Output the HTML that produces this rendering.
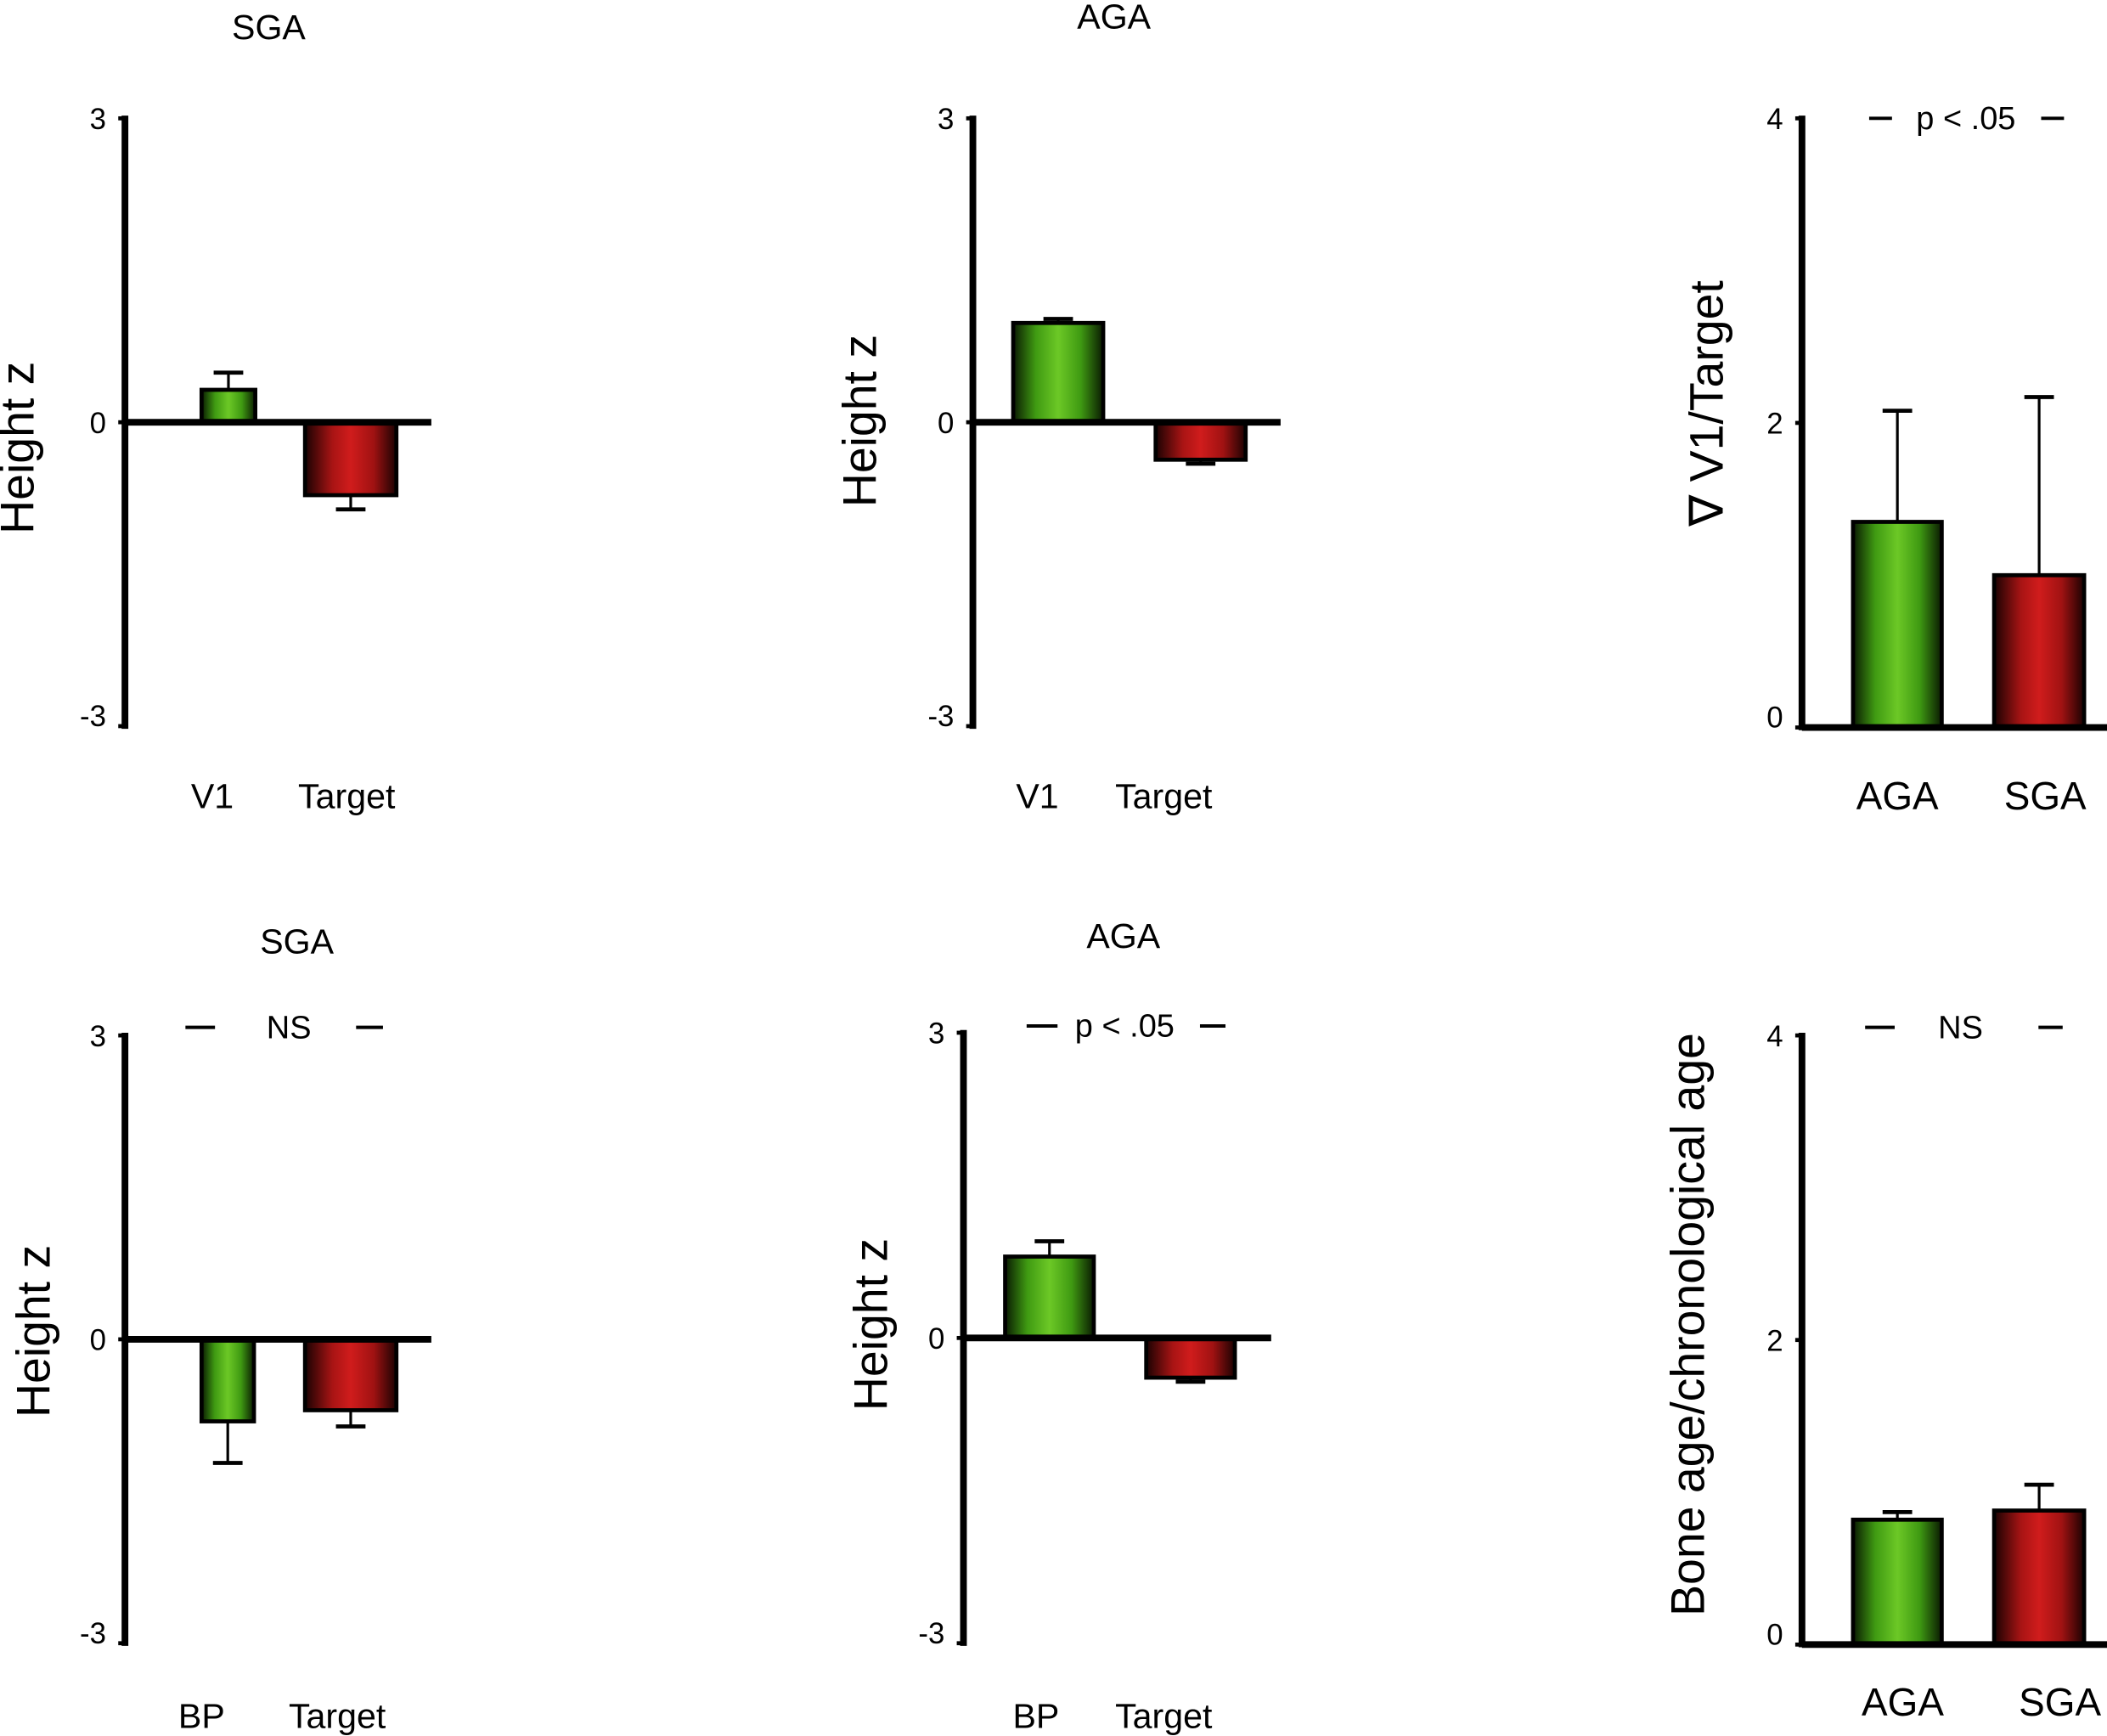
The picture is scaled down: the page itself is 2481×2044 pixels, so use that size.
<!DOCTYPE html>
<html><head><meta charset="utf-8"><style>
html,body{margin:0;padding:0;background:#fff}
svg{display:block}
text{font-family:"Liberation Sans",Arial,sans-serif;fill:#000}
</style></head><body>
<svg id="fig" width="2481" height="2044" viewBox="0 0 1568 1291" preserveAspectRatio="none" xmlns="http://www.w3.org/2000/svg">
<defs>
<linearGradient id="gGreen" x1="0" x2="1" y1="0" y2="0">
<stop offset="0" stop-color="#0a1a02"/><stop offset="0.25" stop-color="#3f9a12"/><stop offset="0.5" stop-color="#6cc826"/><stop offset="0.75" stop-color="#3f9a12"/><stop offset="1" stop-color="#0a1a02"/></linearGradient>
<linearGradient id="gRed" x1="0" x2="1" y1="0" y2="0">
<stop offset="0" stop-color="#1a0202"/><stop offset="0.3" stop-color="#a81414"/><stop offset="0.5" stop-color="#d01c1c"/><stop offset="0.75" stop-color="#a01212"/><stop offset="1" stop-color="#1a0202"/></linearGradient>
</defs>
</svg>
<script>
const p1Categories=["V1","Target"]; const p1Values=[0.32,-0.72]; const p1Errors=[0.17,0.14];
const p2Categories=["V1","Target"]; const p2Values=[0.98,-0.37]; const p2Errors=[0.04,0.04];
const p3Categories=["AGA","SGA"]; const p3Values=[1.35,1.0]; const p3Errors=[0.73,1.17];
const p4Categories=["BP","Target"]; const p4Values=[-0.81,-0.7]; const p4Errors=[0.41,0.16];
const p5Categories=["BP","Target"]; const p5Values=[0.8,-0.39]; const p5Errors=[0.15,0.04];
const p6Categories=["AGA","SGA"]; const p6Values=[0.82,0.88]; const p6Errors=[0.05,0.17];
const zTicks=["3","0","-3"]; const zTickVals=[3,0,-3];
const rTicks=["4","2","0"]; const rTickVals=[4,2,0];

const svg=document.getElementById('fig');
const NS="http://www.w3.org/2000/svg";
function mk(tag,attrs,parent){const e=document.createElementNS(NS,tag);for(const k in attrs)e.setAttribute(k,attrs[k]);(parent||svg).appendChild(e);return e;}
function txt(s,x,y,size,parent,anchor,rot){const t=mk('text',{x:x,y:y,'font-size':size,'text-anchor':anchor||'middle'},parent);if(rot)t.setAttribute('transform','rotate(-90 '+x+' '+y+')');t.textContent=s;return t;}

function drawPanel(cfg){
  const g=mk('g',{});
  
  
  const y=v=>cfg.y0+(cfg.vmax-v)/(cfg.vmax-cfg.vmin)*(cfg.y1-cfg.y0);
  cfg.values.forEach((v,i)=>{
    const bx=cfg.barX[i],bw=cfg.barW[i];
    const top=Math.min(y(v),y(0)),h=Math.abs(y(v)-y(0));
    const end=v>=0?y(v+cfg.errors[i]):y(v-cfg.errors[i]);
    const cx=bx+bw/2;
    const el=mk('line',{x1:cx,x2:cx,y1:y(v),y2:end,stroke:'#000','stroke-width':2},g);
    
    
    const cap=mk('line',{x1:cx-11,x2:cx+11,y1:end,y2:end,stroke:'#000','stroke-width':3},g);
    
    
    const r=mk('rect',{x:bx,y:top,width:bw,height:h,fill:i==0?'url(#gGreen)':'url(#gRed)',stroke:'#000','stroke-width':3},g);
    
    
    const cl=txt(cfg.cats[i],cfg.catX[i],cfg.catY,cfg.catSize,g);
    
    
  });
  const ax=mk('line',{x1:cfg.ax,x2:cfg.ax,y1:cfg.y0-2,y2:cfg.y1+2,stroke:'#000','stroke-width':5},g);
  
  
  const bl=mk('line',{x1:cfg.ax,x2:cfg.baseEnd,y1:y(0),y2:y(0),stroke:'#000','stroke-width':5},g);
  
  
  cfg.ticks.forEach((t,i)=>{
    const ty=y(cfg.tickVals[i]);
    mk('line',{x1:cfg.ax-5,x2:cfg.ax,y1:ty,y2:ty,stroke:'#000','stroke-width':3},g);
    const off=(i==cfg.ticks.length-1)?0:8;
    const tl=txt(t,cfg.ax-14,ty+off,22,g,'end');
    
    
  });
  const yt=txt(cfg.ytitle,cfg.ytx,cfg.yty,35,g,'middle',true);
  
  
  if(cfg.title){const tt=txt(cfg.title,cfg.titleX,cfg.titleY,26,g);
    
    }
  if(cfg.sig){const st=txt(cfg.sig,cfg.sigX,cfg.sigY,24,g);
    
    
    cfg.dashes.forEach(d=>mk('line',{x1:d[0],x2:d[1],y1:cfg.sigY-8,y2:cfg.sigY-8,stroke:'#000','stroke-width':2.5},g));}
}
drawPanel({name:'panel-sga-v1',cats:p1Categories,values:p1Values,errors:p1Errors,ticks:zTicks,tickVals:zTickVals,vmax:3,vmin:-3,y0:88,y1:540,ax:93,baseEnd:321,barX:[150,227],barW:[40,68],catX:[158,258],catY:601,catSize:26,ytitle:'Height z',ytx:25,yty:333,title:'SGA',titleX:200,titleY:29});
drawPanel({name:'panel-aga-v1',cats:p2Categories,values:p2Values,errors:p2Errors,ticks:zTicks,tickVals:zTickVals,vmax:3,vmin:-3,y0:88,y1:540,ax:724,baseEnd:953,barX:[754,860],barW:[67,67],catX:[772,866],catY:601,catSize:26,ytitle:'Height z',ytx:652,yty:313,title:'AGA',titleX:829,titleY:21});
drawPanel({name:'panel-v1-target-ratio',cats:p3Categories,values:p3Values,errors:p3Errors,ticks:rTicks,tickVals:rTickVals,vmax:4,vmin:0,y0:88,y1:541,ax:1341,baseEnd:1568,barX:[1379,1484],barW:[66,67],catX:[1412,1522],catY:602,catSize:29,ytitle:'∇ V1/Target',ytx:1282,yty:300,sig:'p < .05',sigX:1463,sigY:96,dashes:[[1391,1408],[1519,1536]]});
drawPanel({name:'panel-sga-bp',cats:p4Categories,values:p4Values,errors:p4Errors,ticks:zTicks,tickVals:zTickVals,vmax:3,vmin:-3,y0:770,y1:1222,ax:93,baseEnd:321,barX:[150,227],barW:[39,68],catX:[150,251],catY:1285,catSize:26,ytitle:'Height z',ytx:37,yty:990,title:'SGA',titleX:221,titleY:709,sig:'NS',sigX:215,sigY:772,dashes:[[138,160],[265,285]]});
drawPanel({name:'panel-aga-bp',cats:p5Categories,values:p5Values,errors:p5Errors,ticks:zTicks,tickVals:zTickVals,vmax:3,vmin:-3,y0:768,y1:1222,ax:717,baseEnd:946,barX:[748,853],barW:[66,66],catX:[771,866],catY:1285,catSize:26,ytitle:'Height z',ytx:660,yty:985,title:'AGA',titleX:836,titleY:705,sig:'p < .05',sigX:837,sigY:771,dashes:[[764,787],[893,912]]});
drawPanel({name:'panel-bone-age',cats:p6Categories,values:p6Values,errors:p6Errors,ticks:rTicks,tickVals:rTickVals,vmax:4,vmin:0,y0:770,y1:1223,ax:1341,baseEnd:1568,barX:[1379,1484],barW:[66,67],catX:[1416,1533],catY:1276,catSize:29,ytitle:'Bone age/chronological age',ytx:1268,yty:985,sig:'NS',sigX:1459,sigY:772,dashes:[[1388,1410],[1517,1535]]});
</script>
</body></html>
